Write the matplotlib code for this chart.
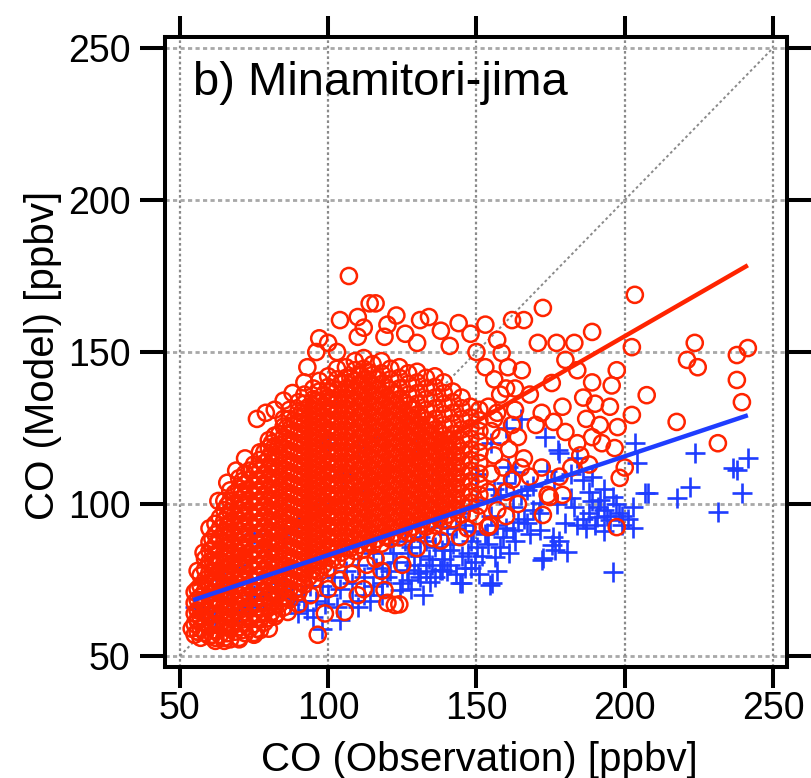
import matplotlib
matplotlib.use("Agg")
import matplotlib.pyplot as plt
import numpy as np

plt.rcParams['font.family'] = ['Liberation Sans', 'DejaVu Sans']

RED = '#ff2400'
BLUE = '#1f3dff'

# observed CO (x) vs model CO (y) [ppbv], dense core of run 1 grouped by observed value
red_core_x = [55, 57, 60, 62, 65, 67, 70, 72, 75, 77, 80, 82, 85, 87, 90, 92, 95, 97,
              100, 103, 106, 109, 112, 115, 118, 121, 124, 127, 130, 133, 136, 139,
              142, 145, 148, 151]
red_core_y = [
    [57, 60.5, 64, 67.5, 71],
    [56, 59, 62.5, 66, 69.5, 73, 76.5],
    [56.5, 60, 63.5, 67, 70.5, 74, 77.5, 81, 84.5, 87.5],
    [55, 58.5, 62, 65.5, 69, 72.5, 76, 79.5, 83, 86.5, 90, 93.5],
    [56, 59.5, 63, 66.5, 70, 73.5, 77, 80.5, 84, 87.5, 91, 94.5, 98, 101],
    [55.5, 59, 62.5, 66, 69.5, 73, 76.5, 80, 83.5, 87, 90.5, 94, 97.5, 101, 104.5],
    [56, 59.5, 63, 66.5, 70, 73.5, 77, 80.5, 84, 87.5, 91, 94.5, 98, 101.5, 105, 108.5],
    [57.5, 61, 64.5, 68, 71.5, 75, 78.5, 82, 85.5, 89, 92.5, 96, 99.5, 103, 106.5, 110],
    [57, 60.5, 64, 67.5, 71, 74.5, 78, 81.5, 85, 88.5, 92, 95.5, 99, 102.5, 106, 109.5, 113],
    [58.5, 62, 65.5, 69, 72.5, 76, 79.5, 83, 86.5, 90, 93.5, 97, 100.5, 104, 107.5, 111, 114.5, 117],
    [59, 62.5, 66, 69.5, 73, 76.5, 80, 83.5, 87, 90.5, 94, 97.5, 101, 104.5, 108, 111.5, 115, 118.5, 121],
    [63, 66.5, 70, 73.5, 77, 80.5, 84, 87.5, 91, 94.5, 98, 101.5, 105, 108.5, 112, 115.5, 119, 122.5],
    [66, 69.5, 73, 76.5, 80, 83.5, 87, 90.5, 94, 97.5, 101, 104.5, 108, 111.5, 115, 118.5, 122, 125.5, 128],
    [68.5, 72, 75.5, 79, 82.5, 86, 89.5, 93, 96.5, 100, 103.5, 107, 110.5, 114, 117.5, 121, 124.5, 128, 131],
    [71, 74.5, 78, 81.5, 85, 88.5, 92, 95.5, 99, 102.5, 106, 109.5, 113, 116.5, 120, 123.5, 127, 130.5, 133.5],
    [73.5, 77, 80.5, 84, 87.5, 91, 94.5, 98, 101.5, 105, 108.5, 112, 115.5, 119, 122.5, 126, 129.5, 133, 136],
    [75, 78.5, 82, 85.5, 89, 92.5, 96, 99.5, 103, 106.5, 110, 113.5, 117, 120.5, 124, 127.5, 131, 134.5, 138],
    [77.5, 81, 84.5, 88, 91.5, 95, 98.5, 102, 105.5, 109, 112.5, 116, 119.5, 123, 126.5, 130, 133.5, 137, 140.5],
    [79, 82.5, 86, 89.5, 93, 96.5, 100, 103.5, 107, 110.5, 114, 117.5, 121, 124.5, 128, 131.5, 135, 138.5, 142],
    [81.5, 85, 88.5, 92, 95.5, 99, 102.5, 106, 109.5, 113, 116.5, 120, 123.5, 127, 130.5, 134, 137.5, 141, 144.5],
    [82, 85.5, 89, 92.5, 96, 99.5, 103, 106.5, 110, 113.5, 117, 120.5, 124, 127.5, 131, 134.5, 138, 141.5, 145],
    [84.5, 88, 91.5, 95, 98.5, 102, 105.5, 109, 112.5, 116, 119.5, 123, 126.5, 130, 133.5, 137, 140.5, 144, 147],
    [85, 88.5, 92, 95.5, 99, 102.5, 106, 109.5, 113, 116.5, 120, 123.5, 127, 130.5, 134, 137.5, 141, 144.5, 148],
    [86.5, 90, 93.5, 97, 100.5, 104, 107.5, 111, 114.5, 118, 121.5, 125, 128.5, 132, 135.5, 139, 142.5, 146],
    [87, 90.5, 94, 97.5, 101, 104.5, 108, 111.5, 115, 118.5, 122, 125.5, 129, 132.5, 136, 139.5, 143, 147],
    [88.5, 92, 95.5, 99, 102.5, 106, 109.5, 113, 116.5, 120, 123.5, 127, 130.5, 134, 137.5, 141, 144.5],
    [89, 92.5, 96, 99.5, 103, 106.5, 110, 113.5, 117, 120.5, 124, 127.5, 131, 134.5, 138, 141.5, 145],
    [90.5, 94, 97.5, 101, 104.5, 108, 111.5, 115, 118.5, 122, 125.5, 129, 132.5, 136, 139.5, 143],
    [91, 94.5, 98, 101.5, 105, 108.5, 112, 115.5, 119, 122.5, 126, 129.5, 133, 136.5, 140, 143.5],
    [92.5, 96, 99.5, 103, 106.5, 110, 113.5, 117, 120.5, 124, 127.5, 131, 134.5, 138, 141.5],
    [93, 96.5, 100, 103.5, 107, 110.5, 114, 117.5, 121, 124.5, 128, 131.5, 135, 138.5, 142],
    [94.5, 98, 101.5, 105, 108.5, 112, 115.5, 119, 122.5, 126, 129.5, 133, 136.5, 140],
    [95, 98.5, 102, 105.5, 109, 112.5, 116, 119.5, 123, 126.5, 130, 133.5, 137],
    [96.5, 100, 103.5, 107, 110.5, 114, 117.5, 121, 124.5, 128, 131.5, 135],
    [97, 100.5, 104, 107.5, 111, 114.5, 118, 121.5, 125, 128.5, 132],
    [99.5, 103, 106.5, 110, 113.5, 117, 120.5, 124, 127.5, 131],
]

# points lying between the core columns
red_fill_x = [56, 58.5, 61, 63.5, 66, 68.5, 71, 73.5, 76, 78.5, 81, 83.5, 86, 88.5,
              91, 93.5, 96, 98.5, 101.5, 104.5, 107.5, 110.5, 113.5, 116.5, 119.5,
              122.5, 125.5, 128.5, 131.5, 134.5, 137.5, 140.5, 143.5]
red_fill_y = [
    [58, 61.5, 65, 68.5, 72],
    [57.5, 61, 64.5, 68, 71.5, 75, 78.5, 82],
    [57, 60.5, 64, 67.5, 71, 74.5, 78, 81.5, 85, 88.5],
    [57, 60.5, 64, 67.5, 71, 74.5, 78, 81.5, 85, 88.5, 92, 95.5],
    [57.5, 61, 64.5, 68, 71.5, 75, 78.5, 82, 85.5, 89, 92.5, 96, 99.5],
    [58, 61.5, 65, 68.5, 72, 75.5, 79, 82.5, 86, 89.5, 93, 96.5, 100, 103.5],
    [58.5, 62, 65.5, 69, 72.5, 76, 79.5, 83, 86.5, 90, 93.5, 97, 100.5, 104, 107.5],
    [59, 62.5, 66, 69.5, 73, 76.5, 80, 83.5, 87, 90.5, 94, 97.5, 101, 104.5, 108, 111],
    [59, 62.5, 66, 69.5, 73, 76.5, 80, 83.5, 87, 90.5, 94, 97.5, 101, 104.5, 108, 111.5],
    [61, 64.5, 68, 71.5, 75, 78.5, 82, 85.5, 89, 92.5, 96, 99.5, 103, 106.5, 110, 113.5, 117],
    [64.5, 68, 71.5, 75, 78.5, 82, 85.5, 89, 92.5, 96, 99.5, 103, 106.5, 110, 113.5, 117, 120],
    [67, 70.5, 74, 77.5, 81, 84.5, 88, 91.5, 95, 98.5, 102, 105.5, 109, 112.5, 116, 119.5, 123],
    [69, 72.5, 76, 79.5, 83, 86.5, 90, 93.5, 97, 100.5, 104, 107.5, 111, 114.5, 118, 121.5, 125],
    [71.5, 75, 78.5, 82, 85.5, 89, 92.5, 96, 99.5, 103, 106.5, 110, 113.5, 117, 120.5, 124, 127.5],
    [74, 77.5, 81, 84.5, 88, 91.5, 95, 98.5, 102, 105.5, 109, 112.5, 116, 119.5, 123, 126.5, 130],
    [76, 79.5, 83, 86.5, 90, 93.5, 97, 100.5, 104, 107.5, 111, 114.5, 118, 121.5, 125, 128.5, 132],
    [78, 81.5, 85, 88.5, 92, 95.5, 99, 102.5, 106, 109.5, 113, 116.5, 120, 123.5, 127, 130.5, 134],
    [80, 83.5, 87, 90.5, 94, 97.5, 101, 104.5, 108, 111.5, 115, 118.5, 122, 125.5, 129, 132.5, 136],
    [82, 85.5, 89, 92.5, 96, 99.5, 103, 106.5, 110, 113.5, 117, 120.5, 124, 127.5, 131, 134.5, 138],
    [84, 87.5, 91, 94.5, 98, 101.5, 105, 108.5, 112, 115.5, 119, 122.5, 126, 129.5, 133, 136.5, 140],
    [85.5, 89, 92.5, 96, 99.5, 103, 106.5, 110, 113.5, 117, 120.5, 124, 127.5, 131, 134.5, 138, 141.5],
    [86.5, 90, 93.5, 97, 100.5, 104, 107.5, 111, 114.5, 118, 121.5, 125, 128.5, 132, 135.5, 139, 142.5],
    [87.5, 91, 94.5, 98, 101.5, 105, 108.5, 112, 115.5, 119, 122.5, 126, 129.5, 133, 136.5, 140, 143.5],
    [88.5, 92, 95.5, 99, 102.5, 106, 109.5, 113, 116.5, 120, 123.5, 127, 130.5, 134, 137.5, 141],
    [89.5, 93, 96.5, 100, 103.5, 107, 110.5, 114, 117.5, 121, 124.5, 128, 131.5, 135, 138.5],
    [90.5, 94, 97.5, 101, 104.5, 108, 111.5, 115, 118.5, 122, 125.5, 129, 132.5, 136],
    [91.5, 95, 98.5, 102, 105.5, 109, 112.5, 116, 119.5, 123, 126.5, 130, 133.5],
    [92.5, 96, 99.5, 103, 106.5, 110, 113.5, 117, 120.5, 124, 127.5, 131],
    [93.5, 97, 100.5, 104, 107.5, 111, 114.5, 118, 121.5, 125, 128.5],
    [94.5, 98, 101.5, 105, 108.5, 112, 115.5, 119, 122.5, 126],
    [95.5, 99, 102.5, 106, 109.5, 113, 116.5, 120, 123.5],
    [96.5, 100, 103.5, 107, 110.5, 114, 117.5, 121],
    [98, 101.5, 105, 108.5, 112, 115.5, 119],
]

# scattered points of run 1 around the core
red_outer = [
    (107, 175), (104, 160.5), (110, 161.5), (114, 166), (110, 155), (97, 154.5),
    (100, 153), (96, 150), (88, 136.5), (85, 134), (79, 130), (82, 131), (76, 128),
    (92, 140), (116, 166), (120, 159), (123, 162), (126, 156), (131, 160.5),
    (134, 161.5), (138, 157), (144, 159.5), (148, 156), (153, 159), (157, 154),
    (158.5, 149.7), (162, 160.5), (166, 160.5), (172.4, 164.5), (170.7, 153),
    (177, 153), (183, 153), (180, 147.4), (184, 144), (175.4, 139.8), (179, 132),
    (180, 123.7), (184, 120), (164, 122), (160.6, 145), (165.3, 144), (168, 136),
    (172, 130), (170, 126), (176, 127), (160, 138), (163, 131), (156, 141),
    (153, 145), (150, 150), (141, 152), (130, 153), (119, 155), (112, 158),
    (103, 150), (93, 145), (72, 115), (69, 111), (66, 107), (63, 101), (60, 92),
    (58, 84), (56, 78), (54, 59), (56, 62), (62, 56), (75, 57.6), (70, 55.5), (65, 55),
    (203.4, 168.8), (189, 156.6), (202.4, 151.6), (223.6, 153), (221, 147.4),
    (224.6, 145), (237.8, 149), (241.5, 151.3), (237.8, 140.8), (239.5, 133.5),
    (207.4, 135.8), (217.5, 127), (231.4, 120), (197.3, 144), (195.6, 139),
    (189, 140), (190, 133), (195, 132), (202.4, 129.3), (197.6, 125.3),
    (191.6, 126), (192.3, 120), (196.6, 118.4), (189, 122), (186, 135), (187, 128),
    (185, 116), (188, 113), (197.3, 92.4), (198.3, 108.6), (200, 112), (179, 103),
    (174.7, 102.3), (172.4, 96.4), (168, 109), (166, 115), (172, 112), (178, 109),
    (182, 112), (144.4, 89.1), (135.3, 88.8), (129.9, 85.5), (154.5, 93),
    (122.5, 66.8), (124, 67), (120, 67.5), (119, 71.7), (118, 78), (153.8, 92.4),
    (174, 103), (96.5, 57), (105.6, 64.5), (98.9, 64), (86.4, 64.5), (82.7, 64),
    (90, 67), (94, 70), (100, 72), (104, 75), (108, 77), (112, 72), (113, 80),
    (116, 82), (110, 70), (125, 80), (138, 88), (147, 92), (150, 96), (160, 96),
    (164, 100), (157, 98), (154, 104), (155, 110), (156, 116), (155, 124),
    (157, 130), (158, 136), (159, 112), (161, 118), (160, 104), (162, 108),
    (163, 138), (165, 112), (158, 122), (154, 132), (156, 128), (162, 126),
]

# run 2
blue_pts = [
    (144.4, 74), (154.5, 73.4), (134.3, 74.3), (156.2, 82.6), (149.5, 81),
    (172.4, 82.2), (175.4, 86.5), (180.5, 84.2), (196, 77.6), (179.8, 93.8),
    (184, 93), (190.6, 95.7), (195, 94.7), (202.7, 92.1), (191.6, 101.3),
    (196, 102.3), (202.7, 99), (189, 101), (207.8, 103.6), (217.5, 102),
    (222, 105.6), (231.4, 97.4), (239.5, 103.6), (236.5, 111.8), (241.5, 115),
    (223.6, 116.8), (203.4, 120), (204, 113.5), (189, 108.9), (183.8, 115),
    (178, 116.8), (173.7, 111), (167, 104.6), (171.4, 100.3), (162.3, 99),
    (158, 103), (163, 110.5), (160.6, 112.2), (171.4, 91.4), (175.8, 89),
    (167, 93.8), (162.3, 91.4), (153.5, 90.5), (150.1, 85.9), (141, 85),
    (137.6, 78.3), (130.9, 76), (124.2, 71.7), (145, 83), (134, 82), (126.5, 78.3),
    (144.4, 97), (150.1, 101.3), (137.6, 92.4), (145, 74), (155.2, 74),
    (138.3, 78.3), (130.2, 77.3), (124.8, 74), (120, 76), (118, 80.6),
    (126.9, 83.9), (138.3, 84.9), (142, 87), (148, 88), (153, 90), (160, 92),
    (166, 95), (171, 97), (177, 100), (182, 102), (188, 104), (183, 99),
    (176.4, 84.9), (178, 88), (172, 81.6), (193, 98), (198, 97), (199, 93),
    (193, 91), (187, 92), (193, 105), (186, 108), (182, 110), (176, 108),
    (169, 106), (165, 103), (160, 107), (156, 105), (155, 96), (146, 93),
    (140, 90), (133, 88), (128, 86), (122, 84), (116, 79), (112, 76), (108, 74),
    (104, 72), (100, 70), (96, 68), (92, 68), (88, 70), (85, 72), (95, 63),
    (90, 64), (98, 59), (104, 62), (110, 66), (114, 68), (118, 70), (128, 72),
    (132, 70), (140, 78), (148, 79), (135, 80), (55, 66), (58, 64), (66, 68),
    (75, 70), (82, 74), (188, 97), (191, 99), (194, 96), (197, 100), (199, 96),
    (201, 95), (190, 93), (186, 95), (206.8, 103.6), (237.8, 111.2),
    (103, 132.6), (110, 118.8), (115.7, 122), (173, 122), (177.4, 117.8),
    (105, 110), (112, 104), (120, 112), (125, 100), (130, 118), (135, 108),
    (140, 115), (150, 110), (155, 120), (160, 125), (165, 128), (97, 100),
    (100, 120), (90, 95), (85, 90), (80, 85), (70, 80), (65, 75), (75, 90),
    (112, 70), (115, 73), (118, 74), (121, 78), (123, 81), (127, 75), (129, 80),
    (131, 83), (133, 78), (136, 76), (139, 82), (141, 80), (143, 77), (146, 79),
    (147, 84), (151, 77), (152, 83), (154, 87), (157, 78), (158, 86), (159, 89),
    (161, 84), (163, 88), (164, 94), (168, 90), (169, 98), (157, 93), (149, 91),
    (143, 92), (136, 86), (131, 89), (126, 88), (121, 87), (115, 84), (110, 80),
    (106, 78), (102, 76), (98, 73), (94, 73), (108, 68), (103, 66), (99, 67),
    (93, 65), (87, 67), (84, 69), (80, 71), (78, 67), (73, 66), (70, 64),
    (62, 62), (60, 66),
]

# linear fits (slope, intercept) over the observed range
fit_x = [54.5, 241.5]
red_fit = (0.562, 42.8)
blue_fit = (0.325, 50.7)

ticks = [50, 100, 150, 200, 250]

red_x = ([x for x, ys in zip(red_core_x, red_core_y) for _ in ys]
         + [x for x, ys in zip(red_fill_x, red_fill_y) for _ in ys]
         + [p[0] for p in red_outer])
red_y = ([y for ys in red_core_y for y in ys]
         + [y for ys in red_fill_y for y in ys]
         + [p[1] for p in red_outer])
blue_x = [p[0] for p in blue_pts]
blue_y = [p[1] for p in blue_pts]

fig = plt.figure(figsize=(8.12, 7.78), dpi=100)
ax = fig.add_axes([0.2032, 0.1427, 0.766, 0.8097])

ax.set_xlim(45, 254.7)
ax.set_ylim(46.4, 253.6)

for t in ticks:
    ax.axvline(t, color='#8a8a8a', lw=1.6, ls=(0, (1.2, 1.2)), zorder=0)
    ax.axhline(t, color='#a8a8a8', lw=2.0, ls=(0, (1.5, 1.2)), zorder=0)
ax.plot([50, 250], [50, 250], color='#8a8a8a', lw=1.4, ls=(0, (1.4, 1.4)), zorder=0.5)

ax.scatter(blue_x, blue_y, marker='+', s=200, color=BLUE, linewidths=1.9, zorder=2)
ax.scatter(red_x, red_y, marker='o', s=135, facecolors='none', edgecolors=RED,
           linewidths=1.8, zorder=3)

fx = np.array(fit_x)
ax.plot(fx, red_fit[0] * fx + red_fit[1], color=RED, lw=3.2, zorder=4,
        solid_capstyle='butt')
ax.plot(fx, blue_fit[0] * fx + blue_fit[1], color=BLUE, lw=3.2, zorder=4,
        solid_capstyle='butt')

ax.set_xticks(ticks)
ax.set_yticks(ticks)
for s in ax.spines.values():
    s.set_linewidth(2.9)
ax.tick_params(axis='x', which='major', direction='out', length=15, width=2.9,
               labelsize=27, pad=2, top=True)
ax.tick_params(axis='y', which='major', direction='out', length=18, width=2.9,
               labelsize=27, pad=7, right=True)

ax.set_xlabel('CO (Observation) [ppbv]', fontsize=29)
ax.set_ylabel('CO (Model) [ppbv]', fontsize=29)
ax.xaxis.set_label_coords(0.506, -0.118)
ax.yaxis.set_label_coords(-0.166, 0.494)

ax.text(0.045, 0.908, 'b) Minamitori-jima', transform=ax.transAxes,
        fontsize=34, ha='left', va='baseline')

fig.savefig('out.png', dpi=100)
